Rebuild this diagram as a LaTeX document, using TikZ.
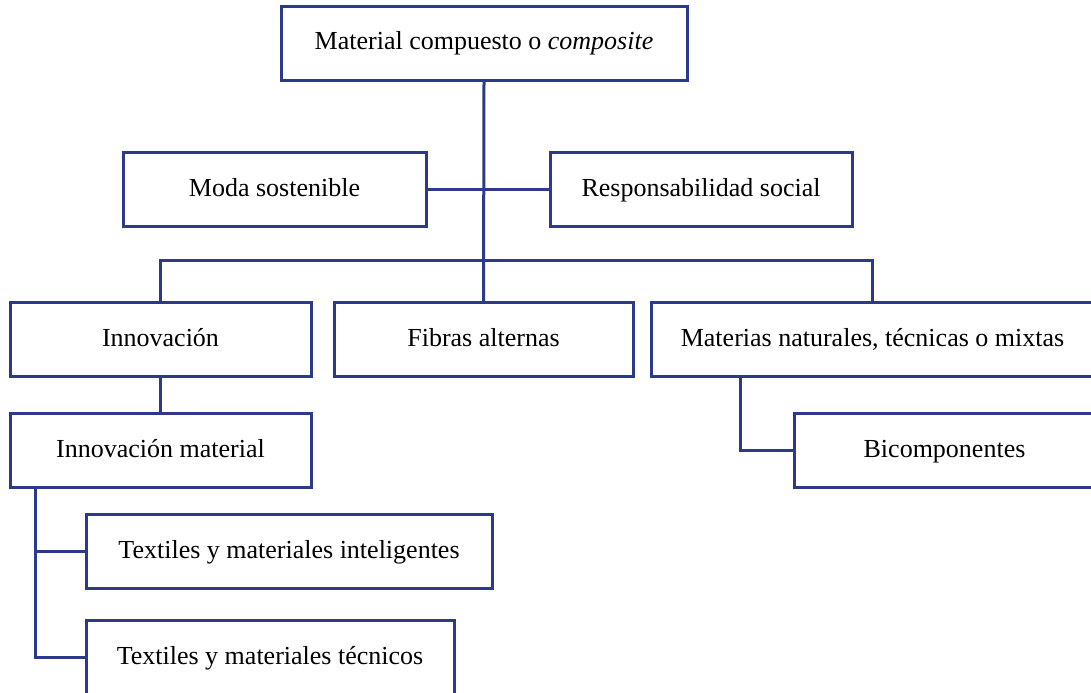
\documentclass[tikz,border=0pt]{standalone}
\usepackage{fontspec}
\setmainfont{Liberation Serif}
\usepackage{xcolor}
\usepackage{tikz}
\usetikzlibrary{positioning,calc}
\definecolor{mblue}{HTML}{2D3A8C}
\tikzset{
  % Plain white rectangle with a dark blue stroke.
  box/.style  = {rectangle, draw=mblue, line width=1.5pt, fill=white,
                 align=center, inner sep=0pt, font=\fontsize{13}{15}\selectfont,
                 text height=0.8em, text depth=0.15em,
                 minimum width=#1, minimum height=37pt},
  box/.default = 150pt,
  link/.style = {draw=mblue, line width=1.5pt},
}

\begin{document}
\begin{tikzpicture}[x=0.5pt,y=-0.5pt]
\useasboundingbox (0,0) rectangle (1091,692);
\clip (0,0) rectangle (1091,692);
% boxes
\node[box=203pt] (top)  at (484,43)    {Material compuesto o \textit{composite}};
\node[box=151.5pt] (moda) at (274.5,189.5) {Moda sostenible};
\node[box=151pt] (resp) at (701,189.5) {Responsabilidad social};
\node[box=150.5pt] (innov) at (160.5,339.5) {Innovación};
\node[box=149.5pt] (fibras) at (483.5,339.5) {Fibras alternas};
\node[box=221.5pt] (mat) at (872.5,339.5) {Materias naturales, técnicas o mixtas};
\node[box=150.5pt] (innmat) at (160.5,450.5) {Innovación material};
\node[box=150.5pt] (bicomp) at (944.5,450.5) {Bicomponentes};
\node[box=203pt] (texint) at (289,551.5) {Textiles y materiales inteligentes};
\node[box=184pt] (textec) at (270,657.5) {Textiles y materiales técnicos};
% connectors
\coordinate (bus) at (484,260);
\draw[link] (top.south) -- (fibras.north);
\draw[link] (moda.east) -- (resp.west);
\draw[link] (innov.north) |- (bus) -| (mat.north);
\draw[link] (innov.south) -- (innmat.north);
\coordinate (br) at ($(innmat.south west)+(27,0)$);
\draw[link] (br) |- (texint.west);
\draw[link] (br) |- (textec.west);
\coordinate (mt) at ($(mat.south west)+(91,0)$);
\draw[link] (mt) |- (bicomp.west);
\end{tikzpicture}
\end{document}
